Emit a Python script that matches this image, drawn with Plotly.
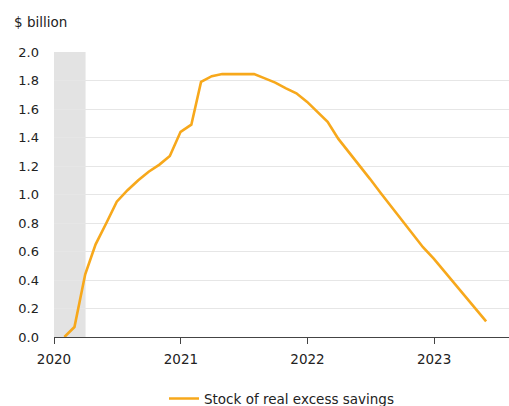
import pandas as pd
import plotly.graph_objects as go

# Month-end observations, Jan 2020 - May 2023
months = pd.date_range("2020-01-31", "2023-05-31", freq="ME")
excess_savings = [
    0.00, 0.07, 0.44, 0.65, 0.80, 0.95, 1.03, 1.10, 1.16, 1.21, 1.27, 1.44,
    1.49, 1.79, 1.83, 1.845, 1.845, 1.845, 1.845, 1.815, 1.785, 1.745, 1.71, 1.65,
    1.58, 1.51, 1.39, 1.30, 1.205, 1.11, 1.01, 0.915, 0.82, 0.72, 0.63, 0.55,
    0.46, 0.38, 0.29, 0.20, 0.11,
]
series_name = "Stock of real excess savings"
recession = ("2020-01-01", "2020-04-01")
y_ticks = [0.0, 0.2, 0.4, 0.6, 0.8, 1.0, 1.2, 1.4, 1.6, 1.8, 2.0]
x_ticks = ["2020-01-01", "2021-01-01", "2022-01-01", "2023-01-01"]
x_labels = ["2020", "2021", "2022", "2023"]

FONT = "DejaVu Sans"
TEXT = "#222222"

fig = go.Figure()

# Shaded recession period
fig.add_vrect(x0=recession[0], x1=recession[1], fillcolor="#e3e3e3",
              line_width=0, layer="below")

fig.add_trace(go.Scatter(
    x=months, y=excess_savings, mode="lines", name=series_name,
    line=dict(color="#F7A81B", width=2.6),
))

# Unit label above the y axis
fig.add_annotation(text="$ billion", xref="paper", yref="paper",
                   x=-0.0923, y=1.107, showarrow=False,
                   font=dict(family=FONT, size=13.5, color=TEXT),
                   xanchor="left", yanchor="middle")

fig.update_layout(
    width=509, height=406,
    margin=dict(l=54, r=0, t=52, b=69, autoexpand=False),
    paper_bgcolor="white", plot_bgcolor="white",
    font=dict(family=FONT, size=13.5, color=TEXT),
    showlegend=True,
    legend=dict(orientation="h", x=0.5, xanchor="center",
                yref="container", y=0.018, yanchor="middle",
                font=dict(family=FONT, size=13.5, color=TEXT), itemwidth=30),
    xaxis=dict(
        range=["2020-01-01", "2023-08-05"],
        tickvals=x_ticks, ticktext=x_labels,
        showgrid=False, showline=True, linecolor="#444", linewidth=1,
        ticks="outside", ticklen=6, tickcolor="#444",
        ticklabelstandoff=4,
        tickfont=dict(family=FONT, size=13.5, color=TEXT),
    ),
    yaxis=dict(
        range=[0, 2.0], tickvals=y_ticks,
        tickformat=".1f", showgrid=True, gridcolor="#e6e6e6", gridwidth=1,
        zeroline=False, showline=False, ticks="", ticklabelstandoff=14,
        tickfont=dict(family=FONT, size=13, color=TEXT),
    ),
)

fig.write_html("out.html")
